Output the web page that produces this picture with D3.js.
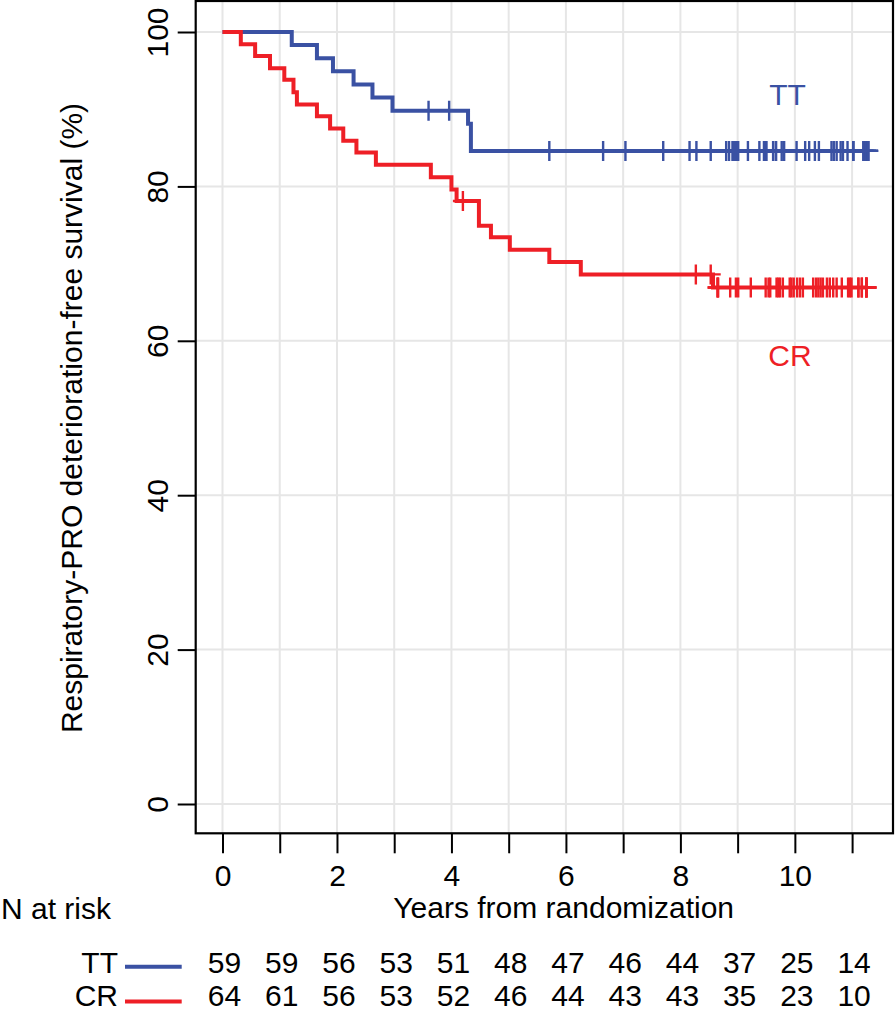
<!DOCTYPE html>
<html>
<head>
<meta charset="utf-8">
<script src="https://cdn.jsdelivr.net/npm/d3@7"></script>
<style>
  html, body { margin: 0; padding: 0; background: #fff; }
  svg { display: block; }
  text { font-family: "Liberation Sans", Arial, Helvetica, sans-serif; }
</style>
</head>
<body>
<svg id="chart" width="895" height="1011"></svg>
<script>
// ---------- data ----------
const groups = ["TT", "CR"];
const groupColors = ["#3a51a3", "#ee1f26"];

// TT step curve (time in years, survival %)
const ttTimes = [0, 1.21, 1.65, 1.93, 2.29, 2.62, 2.97, 4.29, 4.34];
const ttSurv  = [100, 98.3, 96.6, 94.9, 93.2, 91.5, 89.8, 88.1, 84.6];
const ttEnd = 11.28;
const ttCensor = [3.60, 3.96, 5.71, 6.65, 7.04, 7.70, 8.16, 8.28, 8.53, 8.80, 8.85, 8.91,
  8.94, 8.97, 9.01, 9.18, 9.38, 9.46, 9.50, 9.50, 9.62, 9.67, 9.67, 9.77, 9.81, 9.81,
  10.03, 10.18, 10.25, 10.35, 10.42, 10.64, 10.68, 10.73, 10.80, 10.84, 10.92,
  11.02, 11.02, 11.02, 11.20, 11.20, 11.20, 11.24, 11.24, 11.24, 11.28, 11.28, 11.28, 11.28];

// CR step curve
const crTimes = [0, 0.32, 0.57, 0.83, 1.08, 1.24, 1.30, 1.65, 1.88, 2.11, 2.34, 2.68,
  3.64, 4.00, 4.09, 4.48, 4.69, 5.02, 5.71, 6.26, 8.57];
const crSurv  = [100, 98.4, 96.9, 95.3, 93.8, 92.2, 90.6, 89.1, 87.5, 85.9, 84.4, 82.8,
  81.2, 79.6, 78.1, 74.9, 73.4, 71.8, 70.2, 68.6, 66.9];
const crEnd = 11.25;
const crCensor = [4.20, 8.27, 8.53, 8.65, 8.65, 8.66, 8.87, 8.97, 9.01, 9.23, 9.49, 9.54,
  9.57, 9.68, 9.71, 9.74, 9.79, 9.91, 9.94, 9.98, 10.04, 10.09, 10.14, 10.32, 10.37,
  10.41, 10.45, 10.49, 10.56, 10.61, 10.67, 10.73, 10.82, 10.93, 10.96, 10.99,
  11.11, 11.11, 11.17, 11.17, 11.25, 11.25, 11.25, 11.25];

// axis ticks
const xTicks = [0, 1, 2, 3, 4, 5, 6, 7, 8, 9, 10, 11];
const yTicks = [0, 20, 40, 60, 80, 100];

// number at risk at each x tick
const riskTT = [59, 59, 56, 53, 51, 48, 47, 46, 44, 37, 25, 14];
const riskCR = [64, 61, 56, 53, 52, 46, 44, 43, 43, 35, 23, 10];

const yLabel = "Respiratory-PRO deterioration-free survival (%)";
const xLabel = "Years from randomization";

// ---------- layout ----------
const svg = d3.select("#chart");
const box = { left: 195.7, right: 893, top: 1, bottom: 833.3 };
const x = d3.scaleLinear().domain([0, 11]).range([222.5, 852.1]);
const y = d3.scaleLinear().domain([0, 100]).range([804, 32]);
const FS = 30;

// gridlines
const grid = svg.append("g");
grid.selectAll("line.vx").data(xTicks).join("line")
  .attr("x1", d => x(d)).attr("x2", d => x(d))
  .attr("y1", box.top).attr("y2", box.bottom)
  .attr("stroke", "#e6e6e6").attr("stroke-width", 2);
grid.selectAll("line.hy").data(yTicks).join("line")
  .attr("x1", box.left).attr("x2", box.right)
  .attr("y1", d => y(d)).attr("y2", d => y(d))
  .attr("stroke", "#e6e6e6").attr("stroke-width", 2);

// step curves
function stepPath(times, surv, end) {
  const pts = [];
  for (let i = 0; i < times.length; i++) {
    if (i > 0) pts.push([times[i], surv[i - 1]]);
    pts.push([times[i], surv[i]]);
  }
  pts.push([end, surv[surv.length - 1]]);
  return d3.line().x(d => x(d[0])).y(d => y(d[1]))(pts);
}
function survAt(times, surv, t) {
  let s = surv[0];
  for (let i = 0; i < times.length; i++) if (times[i] <= t) s = surv[i];
  return s;
}

const curves = [
  { times: ttTimes, surv: ttSurv, end: ttEnd, cens: ttCensor, color: groupColors[0] },
  { times: crTimes, surv: crSurv, end: crEnd, cens: crCensor, color: groupColors[1] }
];
curves.forEach(c => {
  const g = svg.append("g");
  g.append("path").attr("d", stepPath(c.times, c.surv, c.end))
    .attr("fill", "none").attr("stroke", c.color).attr("stroke-width", 4)
    .attr("stroke-linejoin", "miter");
  const arm = 10;
  g.selectAll("path.cens").data(c.cens).join("path")
    .attr("d", t => {
      const cx = x(t), cy = y(survAt(c.times, c.surv, t));
      return `M${cx - arm},${cy}H${cx + arm}M${cx},${cy - arm}V${cy + arm}`;
    })
    .attr("fill", "none").attr("stroke", c.color).attr("stroke-width", 2.4);
});

// group labels in plot
svg.append("text").attr("x", 787.5).attr("y", 105).attr("text-anchor", "middle")
  .attr("font-size", FS).attr("fill", groupColors[0]).text(groups[0]);
svg.append("text").attr("x", 790).attr("y", 366).attr("text-anchor", "middle")
  .attr("font-size", FS).attr("fill", groupColors[1]).text(groups[1]);

// box
svg.append("rect").attr("x", box.left).attr("y", box.top)
  .attr("width", box.right - box.left).attr("height", box.bottom - box.top)
  .attr("fill", "none").attr("stroke", "#000").attr("stroke-width", 2.2);

// x axis
const xAxis = svg.append("g").attr("transform", `translate(0,${box.bottom})`)
  .call(d3.axisBottom(x).tickValues(xTicks).tickSize(20).tickPadding(11.4)
    .tickFormat(d => d % 2 === 0 ? d : ""));
xAxis.select(".domain").remove();
xAxis.selectAll(".tick line").attr("stroke", "#000").attr("stroke-width", 2);
xAxis.selectAll(".tick text").attr("font-size", FS).attr("fill", "#000")
  .attr("font-family", "Liberation Sans, Arial, sans-serif");

// y axis
const yAxis = svg.append("g").attr("transform", `translate(${box.left},0)`)
  .call(d3.axisLeft(y).tickValues(yTicks).tickSize(18));
yAxis.select(".domain").remove();
yAxis.selectAll(".tick line").attr("stroke", "#000").attr("stroke-width", 2);
yAxis.selectAll(".tick text")
  .attr("x", null).attr("dy", null).attr("y", 0)
  .attr("text-anchor", "middle")
  .attr("transform", "translate(-27.7,0) rotate(-90)")
  .attr("font-size", FS).attr("fill", "#000")
  .attr("font-family", "Liberation Sans, Arial, sans-serif");

// axis titles
svg.append("text").attr("transform", `translate(82,${(y(0) + y(100)) / 2}) rotate(-90)`)
  .attr("text-anchor", "middle").attr("font-size", FS).text(yLabel);
svg.append("text").attr("x", 563.7).attr("y", 918.3).attr("text-anchor", "middle")
  .attr("font-size", FS).text(xLabel);

// risk table
svg.append("text").attr("x", 1).attr("y", 919).attr("font-size", FS).text("N at risk");
const rows = [
  { name: groups[0], vals: riskTT, yb: 973, ly: 966.7, color: groupColors[0] },
  { name: groups[1], vals: riskCR, yb: 1006, ly: 1001.5, color: groupColors[1] }
];
rows.forEach(r => {
  svg.append("text").attr("x", 118).attr("y", r.yb).attr("text-anchor", "end")
    .attr("font-size", FS).text(r.name);
  svg.append("line").attr("x1", 125).attr("x2", 181.7).attr("y1", r.ly).attr("y2", r.ly)
    .attr("stroke", r.color).attr("stroke-width", 4);
  svg.append("g").selectAll("text").data(r.vals).join("text")
    .attr("x", (d, i) => x(xTicks[i]) + 2).attr("y", r.yb)
    .attr("text-anchor", "middle").attr("font-size", FS).text(d => d);
});
</script>
</body>
</html>
